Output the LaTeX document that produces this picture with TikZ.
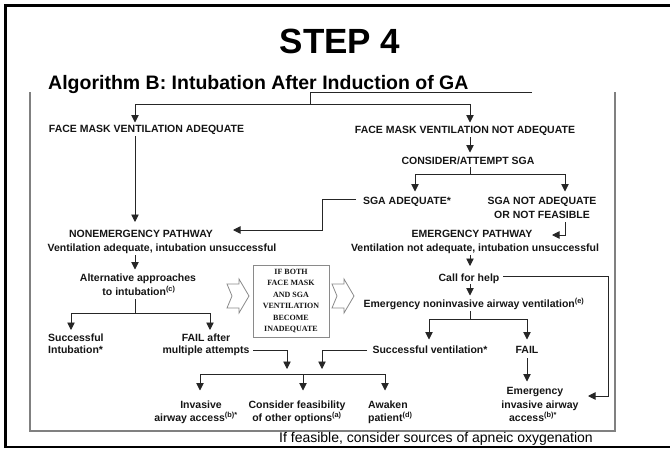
\documentclass[tikz,border=0pt]{standalone}
\usepackage{fontspec}
\setmainfont{Liberation Sans}
\newfontfamily\boxserif{Liberation Serif}
\usetikzlibrary{arrows.meta}
\definecolor{ink}{HTML}{151515}
\definecolor{wire}{HTML}{262626}
\definecolor{framegray}{HTML}{808080}
\definecolor{boxgray}{HTML}{8A8A8A}
\begin{document}
\begin{tikzpicture}[x=1pt,y=-1pt,
  t/.style={font=\fontsize{10.5}{13}\selectfont\bfseries, text=ink, inner sep=0pt, anchor=base},
  tl/.style={t, anchor=base west},
  conn/.style={draw=wire, line width=0.9pt},
  arr/.style={conn, -{Triangle[length=7.5pt,width=7.5pt]}},
  hollow/.style={draw=boxgray, line width=0.8pt, fill=white}
]
\useasboundingbox (0,0) rectangle (670,448);
\clip (0,0) rectangle (670,448);

% titles
\node[font=\fontsize{35}{40}\selectfont\bfseries, text=black, inner sep=0pt, anchor=base] (step) at (340,53) {STEP 4};
\node[font=\fontsize{19.5}{22}\selectfont\bfseries, text=black, inner sep=0pt, anchor=base west] (alg) at (48,89.5) {Algorithm B: Intubation After Induction of GA};

% inner frame
\draw[framegray, line width=1.3pt] (30,92) -- (30,431) -- (615,431) -- (615,92);

% text nodes
\node[t] (fmva) at (146.5,132) {FACE MASK VENTILATION ADEQUATE};
\node[t] (fmvna) at (465,133) {FACE MASK VENTILATION NOT ADEQUATE};
\node[t] (csga) at (468,164) {CONSIDER/ATTEMPT SGA};
\node[t] (sgaa) at (407,204) {SGA ADEQUATE*};
\node[t] (sgan1) at (542,204) {SGA NOT ADEQUATE};
\node[t] (sgan2) at (542,218) {OR NOT FEASIBLE};
\node[t] (nep) at (141,237) {NONEMERGENCY PATHWAY};
\node[t] (nepv) at (162,251) {Ventilation adequate, intubation unsuccessful};
\node[t] (ep) at (472,237) {EMERGENCY PATHWAY};
\node[t] (epv) at (475,251) {Ventilation not adequate, intubation unsuccessful};
\node[t] (alt1) at (138,281) {Alternative approaches};
\node[t] (alt2) at (139,295) {to intubation\textsuperscript{(c)}};
\node[t] (help) at (469,281) {Call for help};
\node[t] (eniv) at (474,307) {Emergency noninvasive airway ventilation\textsuperscript{(e)}};
\node[tl] (si1) at (48,341) {Successful};
\node[tl] (si2) at (48,353.5) {Intubation*};
\node[t] (fa1) at (206,341) {FAIL after};
\node[t] (fa2) at (206,353.5) {multiple attempts};
\node[t] (sv) at (430,353) {Successful ventilation*};
\node[t] (fail) at (527,353) {FAIL};
\node[t] (inv1) at (201,408) {Invasive};
\node[t] (inv2) at (196,421) {airway access\textsuperscript{(b)*}};
\node[t] (cf1) at (297,408) {Consider feasibility};
\node[t] (cf2) at (297,421) {of other options\textsuperscript{(a)}};
\node[tl] (aw1) at (368,408) {Awaken};
\node[tl] (aw2) at (368,421) {patient\textsuperscript{(d)}};
\node[t] (eia1) at (535,394) {Emergency};
\node[t] (eia2) at (540,408) {invasive airway};
\node[t] (eia3) at (533,421) {access\textsuperscript{(b)*}};

% gray box
\node[draw=boxgray, line width=1pt, minimum width=76pt, minimum height=72pt, align=center,
      font=\boxserif\bfseries\fontsize{8}{11.5}\selectfont, text=ink, inner sep=0pt] (box) at (291,301)
      {IF BOTH\\FACE MASK\\AND SGA\\VENTILATION\\BECOME\\INADEQUATE};

% hollow block arrows
\draw[hollow] (227,284) -- (239,284) -- (239,279) -- (249,296) -- (239,313) -- (239,308) -- (227,308) -- (232,296) -- cycle;
\draw[hollow] (332,284) -- (344,284) -- (344,279) -- (354,296) -- (344,313) -- (344,308) -- (332,308) -- (337,296) -- cycle;

% coordinates
\coordinate (t0) at (532,92); \coordinate (t1) at (310,92); \coordinate (t2) at (310,104);
\coordinate (tl) at (135,104); \coordinate (tr) at (470,104);
\coordinate (tlE) at (135,122.5); \coordinate (trE) at (470,122.5);
\coordinate (aS) at (135,136); \coordinate (aE) at (135,222);
\coordinate (bS) at (470,137); \coordinate (bE) at (470,152.5);
\coordinate (cS) at (470,167); \coordinate (cM) at (470,174);
\coordinate (cL) at (415,174); \coordinate (cR) at (565,174);
\coordinate (cLE) at (415,191.5); \coordinate (cRE) at (565,191.5);
\coordinate (dS) at (356,199); \coordinate (dB) at (322,199); \coordinate (dC) at (322,230); \coordinate (dE) at (233,230);
\coordinate (eS) at (565,222); \coordinate (eB) at (565,235); \coordinate (eE) at (552,235);
\coordinate (fS) at (470,255); \coordinate (fE) at (470,266);
\coordinate (gS) at (503,276); \coordinate (gB) at (608,276); \coordinate (gC) at (608,396); \coordinate (gE) at (588,396);
\coordinate (hS) at (470,284); \coordinate (hE) at (470,295.5);
\coordinate (iS) at (470,311); \coordinate (iM) at (470,319);
\coordinate (iL) at (429,319); \coordinate (iR) at (527,319);
\coordinate (iLE) at (429,339.5); \coordinate (iRE) at (527,339.5);
\coordinate (jS) at (527,358); \coordinate (jE) at (527,381.5);
\coordinate (kS) at (135,255); \coordinate (kE) at (135,269.5);
\coordinate (lS) at (135,299); \coordinate (lM) at (135,313);
\coordinate (lL) at (71,313); \coordinate (lR) at (210,313);
\coordinate (lLE) at (71,330); \coordinate (lRE) at (210,330);
\coordinate (mS) at (253,350); \coordinate (mB) at (287,350); \coordinate (mE) at (287,369);
\coordinate (nS) at (367,350); \coordinate (nB) at (322,350); \coordinate (nE) at (322,369);
\coordinate (oL) at (200,374); \coordinate (oR) at (385,374); \coordinate (oM) at (303,374);
\coordinate (oLE) at (200,390.5); \coordinate (oME) at (303,390.5); \coordinate (oRE) at (385,390.5);

% connectors
\draw[conn] (t0) -- (t1) -- (t2);
\draw[conn] (tl) -- (tr);
\draw[arr] (tl) -- (tlE);
\draw[arr] (tr) -- (trE);
\draw[arr] (aS) -- (aE);
\draw[arr] (bS) -- (bE);
\draw[conn] (cS) -- (cM);
\draw[conn] (cL) -- (cR);
\draw[arr] (cL) -- (cLE);
\draw[arr] (cR) -- (cRE);
\draw[arr] (dS) -- (dB) -- (dC) -- (dE);
\draw[arr] (eS) -- (eB) -- (eE);
\draw[arr] (fS) -- (fE);
\draw[arr] (gS) -- (gB) -- (gC) -- (gE);
\draw[arr] (hS) -- (hE);
\draw[conn] (iS) -- (iM);
\draw[conn] (iL) -- (iR);
\draw[arr] (iL) -- (iLE);
\draw[arr] (iR) -- (iRE);
\draw[arr] (jS) -- (jE);
\draw[arr] (kS) -- (kE);
\draw[conn] (lS) -- (lM);
\draw[conn] (lL) -- (lR);
\draw[arr] (lL) -- (lLE);
\draw[arr] (lR) -- (lRE);
\draw[arr] (mS) -- (mB) -- (mE);
\draw[arr] (nS) -- (nB) -- (nE);
\draw[conn] (oL) -- (oR);
\draw[arr] (oL) -- (oLE);
\draw[arr] (oM) -- (oME);
\draw[arr] (oR) -- (oRE);

% bottom note
\node[font=\fontsize{14}{16}\selectfont, text=black, inner sep=0pt, anchor=base west] (note) at (279,442.5) {If feasible, consider sources of apneic oxygenation};

% outer border
\draw[black, line width=2.2pt] (680,5.5) -- (5.5,5.5) -- (5.5,446.9) -- (680,446.9);
\end{tikzpicture}
\end{document}
